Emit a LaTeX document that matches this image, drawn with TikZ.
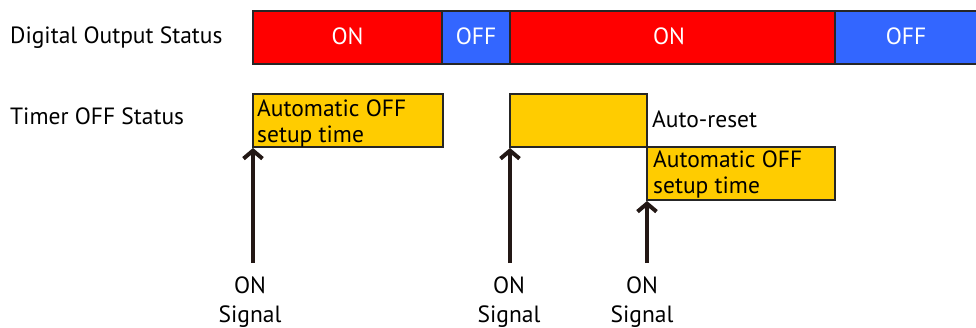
\documentclass[tikz,border=0pt]{standalone}
\usepackage{fontspec}
\setmainfont{PT Sans}
\usetikzlibrary{arrows.meta}
\definecolor{onred}{HTML}{FF0000}
\definecolor{offblue}{HTML}{3366FF}
\definecolor{tyellow}{HTML}{FFCC00}
\definecolor{arrbrown}{HTML}{231815}
\newcommand{\dfont}{\fontsize{23.5}{27}\selectfont}
\tikzset{
  seg/.style={draw=black!85, line width=1.2pt},
  segtxt/.style={anchor=base, inner sep=0pt, text=white, font=\dfont},
  tbox/.style={draw=black!85, fill=tyellow, line width=1.2pt},
  lbl/.style={anchor=base west, inner sep=0pt, font=\dfont},
  sig/.style={anchor=base, inner sep=0pt, font=\dfont},
  trig/.style={draw=arrbrown, line width=4.5pt, -{Straight Barb[length=8pt,width=19pt,line width=4pt]}}
}
\begin{document}
\begin{tikzpicture}[x=1pt,y=-1pt]
\useasboundingbox (0,0) rectangle (976,327);
% labels
\node[lbl] (dos) at (10,43) {Digital Output Status};
\node[lbl] (tos) at (10,124) {Timer OFF Status};
% output bar
\path[seg, fill=onred] (253,11) rectangle (442,64);
\node[segtxt] (on1) at (347.5,44) {ON};
\path[seg, fill=offblue] (442,11) rectangle (510,64);
\node[segtxt] (off1) at (476,44) {OFF};
\path[seg, fill=offblue] (835,11) rectangle (977,64);
\path[seg, fill=onred] (510,11) rectangle (835,64);
\node[segtxt] (on2) at (669,44) {ON};
\node[segtxt] (off2) at (906,44) {OFF};
% timer boxes
\draw[tbox] (253,94) rectangle (443,147);
\node[lbl] (t1a) at (257,116) {Automatic OFF};
\node[lbl] (t1b) at (257,142) {setup time};
\draw[tbox] (510,94) rectangle (647,147);
\node[lbl] (ar) at (652,127) {Auto-reset};
\draw[tbox] (647,147) rectangle (835,200);
\node[lbl] (t3a) at (653,167) {Automatic OFF};
\node[lbl] (t3b) at (653,193) {setup time};
% arrows
\coordinate (a1s) at (253,263); \coordinate (a1e) at (253,148);
\coordinate (a2s) at (510,263); \coordinate (a2e) at (510,148);
\coordinate (a3s) at (647,263); \coordinate (a3e) at (647,201);
\draw[trig] (a1s) -- (a1e);
\draw[trig] (a2s) -- (a2e);
\draw[trig] (a3s) -- (a3e);
% signal labels
\node[sig] (s1a) at (250,293) {ON};
\node[sig] (s1b) at (250,322) {Signal};
\node[sig] (s2a) at (509,293) {ON};
\node[sig] (s2b) at (509,322) {Signal};
\node[sig] (s3a) at (642,293) {ON};
\node[sig] (s3b) at (642,322) {Signal};
\end{tikzpicture}
\end{document}
